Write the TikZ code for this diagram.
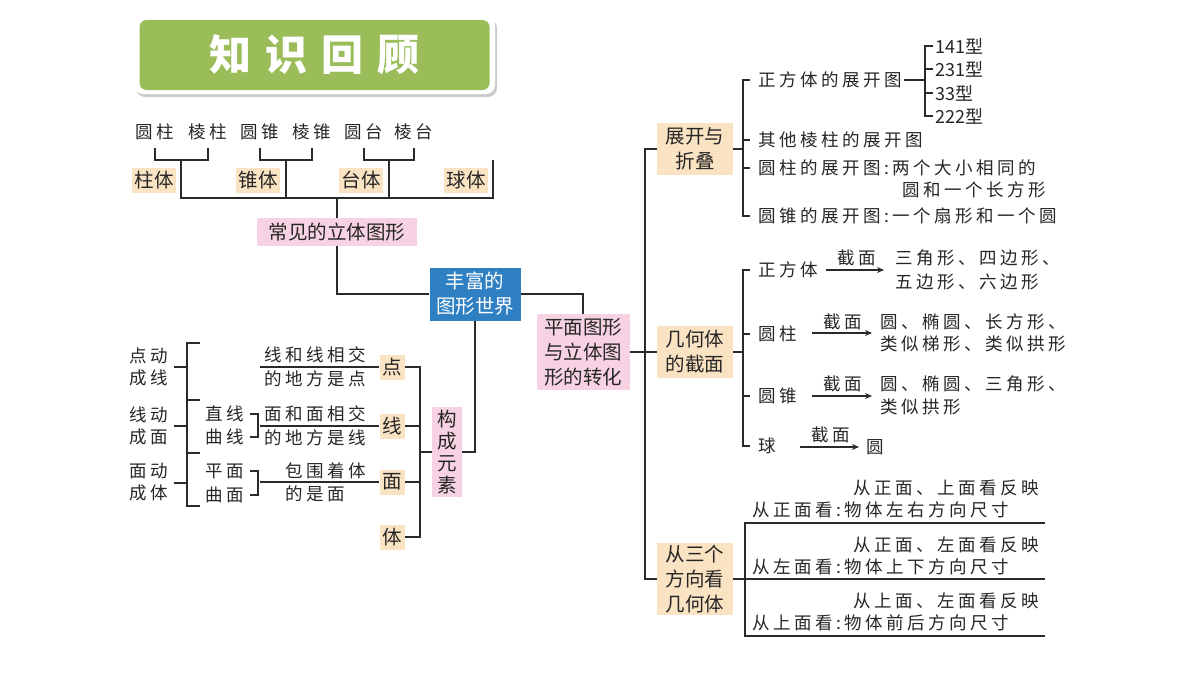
\documentclass[tikz,border=0pt]{standalone}
\usepackage{fontspec}
\newfontfamily\cjk[LetterSpace=20]{Noto Sans CJK SC}
\newfontfamily\cjkb{Noto Sans CJK SC}
\newfontfamily\cjkt{Noto Sans CJK SC Black}
\usetikzlibrary{arrows.meta}
\definecolor{lc}{HTML}{2A2A2A}
\definecolor{ob}{HTML}{FAE3C3}
\definecolor{pk}{HTML}{F6D2E2}
\definecolor{bl}{HTML}{2F80C3}
\definecolor{gr}{HTML}{9ABD5A}
\tikzset{
 txt/.style={inner sep=0pt,anchor=west,font=\cjk\fontsize{17.5}{22.5}\selectfont,text=black!85,align=left},
 ctr/.style={txt,anchor=center},
 num/.style={txt,font=\cjkb\fontsize{18}{22}\selectfont},
 bx/.style={inner sep=0pt,font=\cjkb\fontsize{19.5}{25}\selectfont,align=center,text=black!85},
 obox/.style={bx,fill=ob},
 pbox/.style={bx,fill=pk},
 ln/.style={draw=lc,line width=1.2pt},
 arr/.style={ln,-{Stealth[length=7pt,width=6pt]}}
}
\begin{document}
\begin{tikzpicture}[x=1pt,y=-1pt]
\useasboundingbox (0,0) rectangle (1200,675);
\fill[white] (0,0) rectangle (1200,675);
% title
\fill[black!20,rounded corners=9pt] (136,19) rectangle (497,97);
\fill[white,rounded corners=9pt] (134,16) rectangle (495,94);
\node[fill=gr,rounded corners=7pt,minimum width=350pt,minimum height=70pt,inner sep=0pt,text=white,font=\cjkt\fontsize{42}{46}\selectfont] (title) at (314.5,55) {知\hspace{14pt}识\hspace{14pt}回\hspace{14pt}顾};
% top-left tree
\foreach \n/\t/\x in {a1/圆柱/155,a2/棱柱/208,a3/圆锥/260,a4/棱锥/312,a5/圆台/364,a6/棱台/414}
  \node[ctr] (\n) at (\x,132) {\t};
\node[obox,minimum width=44pt,minimum height=25pt] (zhu) at (154,180) {柱体};
\node[obox,minimum width=44pt,minimum height=25pt] (zhui) at (258,180) {锥体};
\node[obox,minimum width=44pt,minimum height=25pt] (tai) at (361,180) {台体};
\node[obox,minimum width=44pt,minimum height=25pt] (qiu) at (466,180) {球体};
\node[pbox,minimum width=160pt,minimum height=28pt] (cj) at (337,232) {常见的立体图形};
\draw[ln] (155,148) |- (208,160) -- (208,148);
\draw[ln] (260,148) |- (312,160) -- (312,148);
\draw[ln] (364,148) |- (414,160) -- (414,148);
\draw[ln] (181,160) -- (181,198) -- (493,198) -- (493,160);
\draw[ln] (286,160) -- (286,198);
\draw[ln] (389,160) -- (389,198);
\draw[ln] (337,198) -- (cj.north);
% center
\node[bx,fill=bl,text=white,minimum width=91pt,minimum height=53pt] (fu) at (475,294) {丰富的\\图形世界};
\draw[ln] (cj.south) |- (fu.west);
\node[pbox,minimum width=93pt,minimum height=76pt] (pm) at (583,352) {平面图形\\与立体图\\形的转化};
\draw[ln] (fu.east) -| (pm.north);
\node[pbox,minimum width=30pt,minimum height=90pt,font=\cjkb\fontsize{19.5}{22}\selectfont] (gc) at (447,452) {构\\成\\元\\素};
\draw[ln] (gc.east) -| (fu.south);
% elements
\node[obox,minimum width=25pt,minimum height=25pt] (dian) at (392,367) {点};
\node[obox,minimum width=25pt,minimum height=25pt] (xian) at (392,426) {线};
\node[obox,minimum width=25pt,minimum height=25pt] (mian) at (392,482) {面};
\node[obox,minimum width=25pt,minimum height=25pt] (ti) at (392,537) {体};
\coordinate (gv) at (420,452);
\draw[ln] (gc.west) -- (gv);
\draw[ln] (dian.east) -| (420,537) -- (ti.east);
\draw[ln] (xian.east) -- (420,426);
\draw[ln] (mian.east) -- (420,482);
\draw[ln] (260,367) -- (dian.west);
\draw[ln] (260,426) -- (xian.west);
\draw[ln] (260,482) -- (mian.west);
\node[txt] (d1) at (264,355) {线和线相交};
\node[txt] (d2) at (264,379) {的地方是点};
\node[txt] (x1) at (264,414) {面和面相交};
\node[txt] (x2) at (264,438) {的地方是线};
\node[txt] (m1) at (285,471) {包围着体};
\node[txt] (m2) at (285,494) {的是面};
\node[txt] (zx) at (205,414) {直线};
\node[txt] (qx) at (205,437) {曲线};
\node[txt] (pmn) at (205,471) {平面};
\node[txt] (qm) at (205,495) {曲面};
\draw[ln] (250,414) -- (258,414) -- (258,437) -- (250,437);
\draw[ln] (250,471) -- (258,471) -- (258,495) -- (250,495);
\node[txt] (l1) at (129,367) {点动\\成线};
\node[txt] (l2) at (129,426) {线动\\成面};
\node[txt] (l3) at (129,482) {面动\\成体};
\draw[ln] (200,343) -- (187,343) -- (187,506) -- (200,506);
\draw[ln] (187,400) -- (200,400);
\draw[ln] (187,453) -- (200,453);
\draw[ln] (174,367) -- (187,367);
\draw[ln] (174,426) -- (187,426);
\draw[ln] (174,483) -- (187,483);
% right side main
\node[obox,minimum width=76pt,minimum height=52pt] (zk) at (695,149) {展开与\\折叠};
\node[obox,minimum width=76pt,minimum height=52pt] (jh) at (695,352) {几何体\\的截面};
\node[obox,minimum width=76pt,minimum height=72pt] (sf) at (695,579) {从三个\\方向看\\几何体};
\draw[ln] (pm.east) -- (645,352);
\draw[ln] (zk.west) -| (645,579) -- (sf.west);
\draw[ln] (jh.west) -- (645,352);
% unfolding
\draw[ln] (zk.east) -- (743,149);
\draw[ln] (750,80) -- (743,80) -- (743,216) -- (750,216);
\draw[ln] (743,140) -- (750,140);
\draw[ln] (743,168) -- (750,168);
\node[txt] (u1) at (758,80) {正方体的展开图};
\node[txt] (u2) at (758,140) {其他棱柱的展开图};
\node[txt] (u3) at (758,168) {圆柱的展开图:两个大小相同的};
\node[txt] (u3b) at (902,190) {圆和一个长方形};
\node[txt] (u4) at (758,216) {圆锥的展开图:一个扇形和一个圆};
\draw[ln] (u1.east) ++(2,0) -- (925,80);
\draw[ln] (933,46) -- (925,46) -- (925,116) -- (933,116);
\draw[ln] (925,69) -- (933,69);
\draw[ln] (925,93) -- (933,93);
\node[num] (t1) at (935,46) {141型};
\node[num] (t2) at (935,69) {231型};
\node[num] (t3) at (935,93) {33型};
\node[num] (t4) at (935,116) {222型};
% sections
\draw[ln] (jh.east) -- (743,352);
\draw[ln] (750,270) -- (743,270) -- (743,446) -- (750,446);
\draw[ln] (743,334) -- (750,334);
\draw[ln] (743,396) -- (750,396);
\node[txt] (s1) at (758,270) {正方体};
\node[txt] (s2) at (758,334) {圆柱};
\node[txt] (s3) at (758,396) {圆锥};
\node[txt] (s4) at (758,446) {球};
\coordinate (e1) at (884,270); \draw[arr] (826,270) -- (e1);
\coordinate (e2) at (872,333); \draw[arr] (812,333) -- (e2);
\coordinate (e3) at (872,396); \draw[arr] (812,396) -- (e3);
\coordinate (e4) at (859,447); \draw[arr] (800,447) -- (e4);
\node[ctr] (k1) at (857,258) {截面};
\node[ctr] (k2) at (843,322) {截面};
\node[ctr] (k3) at (843,384) {截面};
\node[ctr] (k4) at (831,435) {截面};
\node[txt] (r1) at (895,258) {三角形、四边形、};
\node[txt] (r1b) at (895,282) {五边形、六边形};
\node[txt] (r2) at (880,322) {圆、椭圆、长方形、};
\node[txt] (r2b) at (880,344) {类似梯形、类似拱形};
\node[txt] (r3) at (880,384) {圆、椭圆、三角形、};
\node[txt] (r3b) at (880,407) {类似拱形};
\node[txt] (r4) at (866,447) {圆};
% three views
\draw[ln] (sf.east) -- (745,579);
\draw[ln] (1045,523) -- (745,523) -- (745,636) -- (1045,636);
\draw[ln] (745,579) -- (1045,579);
\node[txt] (v1) at (853,488) {从正面、上面看反映};
\node[txt] (v1b) at (752,510) {从正面看:物体左右方向尺寸};
\node[txt] (v2) at (853,545) {从正面、左面看反映};
\node[txt] (v2b) at (752,567) {从左面看:物体上下方向尺寸};
\node[txt] (v3) at (853,601) {从上面、左面看反映};
\node[txt] (v3b) at (752,623) {从上面看:物体前后方向尺寸};
\end{tikzpicture}
\end{document}
